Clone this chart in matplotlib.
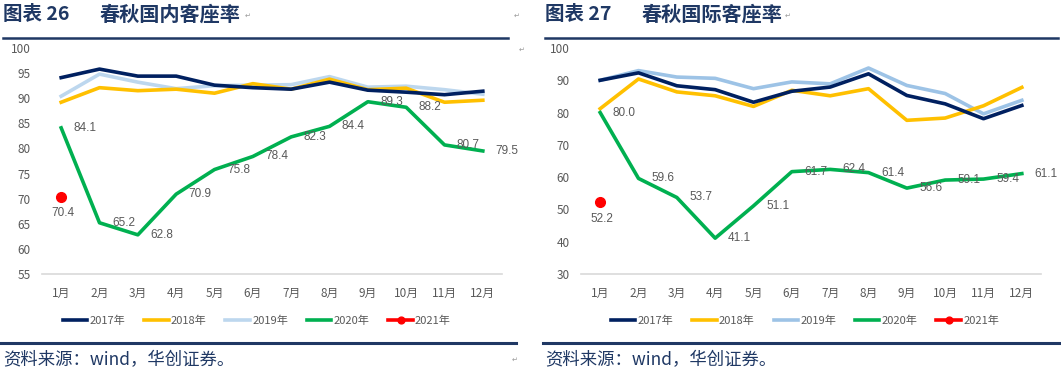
import matplotlib
matplotlib.use('Agg')
from matplotlib import pyplot as plt

plt.rcParams['font.family'] = ['Noto Sans CJK SC', 'DejaVu Sans']

# 数据
months = ['1月', '2月', '3月', '4月', '5月', '6月', '7月', '8月', '9月', '10月', '11月', '12月']
years = ['2017年', '2018年', '2019年', '2020年', '2021年']

# 国内客座率
dom_2017 = [94.1, 95.8, 94.4, 94.4, 92.6, 92.1, 91.8, 93.2, 91.6, 91.2, 90.7, 91.4]
dom_2018 = [89.2, 92.1, 91.5, 91.8, 91.0, 92.9, 91.8, 93.8, 91.7, 92.0, 89.2, 89.6]
dom_2019 = [90.4, 94.8, 93.2, 91.9, 92.5, 92.6, 92.7, 94.3, 92.2, 92.4, 91.7, 90.8]
dom_2020 = [84.1, 65.2, 62.8, 70.9, 75.8, 78.4, 82.3, 84.4, 89.3, 88.2, 80.7, 79.5]
dom_2021 = [70.4]

# 国际客座率
int_2017 = [90.0, 92.3, 88.3, 87.1, 83.2, 86.6, 87.9, 92.0, 85.3, 82.7, 78.1, 82.2]
int_2018 = [81.2, 90.4, 86.4, 85.2, 81.9, 86.9, 85.2, 87.4, 77.6, 78.3, 82.1, 87.8]
int_2019 = [90.0, 93.0, 91.0, 90.6, 87.4, 89.5, 88.9, 93.8, 88.4, 85.9, 79.6, 83.8]
int_2020 = [80.0, 59.6, 53.7, 41.1, 51.1, 61.7, 62.4, 61.4, 56.6, 59.1, 59.4, 61.1]
int_2021 = [52.2]

navy = '#002060'
gold = '#FFC000'
green = '#00B050'
gray = '#595959'
title_blue = '#1F3864'

W, H = 1061, 376
fig = plt.figure(figsize=(W / 100, H / 100), dpi=100)


def draw(left_px, series, light_blue, ylim, yticks, legend_x):
    ax = fig.add_axes([left_px / W, 1 - 274 / H, 460 / W, 226 / H])
    x = list(range(1, 13))
    s17, s18, s19, s20, s21 = series
    ax.plot(x, s17, color=navy, lw=2.6, label=years[0], zorder=4)
    ax.plot(x, s18, color=gold, lw=2.6, label=years[1], zorder=3)
    ax.plot(x, s19, color=light_blue, lw=2.6, label=years[2], zorder=2)
    ax.plot(x, s20, color=green, lw=2.6, label=years[3], zorder=5)
    ax.plot(x[:len(s21)], s21, color='#FF0000', lw=2.6, marker='o', ms=7,
            label=years[4], zorder=6)
    for xi, v in zip(x, s20):
        ax.annotate(f'{v:.1f}', (xi, v), xytext=(9, 0), textcoords='offset points',
                    ha='left', va='center', fontsize=8.5, color=gray,
                    family=['Liberation Sans', 'DejaVu Sans'], zorder=7)
    for xi, v in zip(x, s21):
        ax.annotate(f'{v:.1f}', (xi, v), xytext=(1, -12), textcoords='offset points',
                    ha='center', va='center', fontsize=8.5, color=gray,
                    family=['Liberation Sans', 'DejaVu Sans'], zorder=7)
    ax.set_xlim(0.5, 12.5)
    ax.set_ylim(*ylim)
    ax.set_yticks(yticks)
    ax.set_xticks(x)
    ax.set_xticklabels(months)
    for sp in ['top', 'right', 'left']:
        ax.spines[sp].set_visible(False)
    ax.spines['bottom'].set_color('#D9D9D9')
    ax.spines['bottom'].set_linewidth(1.2)
    ax.tick_params(axis='both', length=0, colors=gray, labelsize=8.5)
    ax.tick_params(axis='y', pad=8)
    ax.tick_params(axis='x', pad=9)
    leg = ax.legend(loc='center', bbox_to_anchor=(legend_x, -0.208), ncol=5,
                    frameon=False, fontsize=8, handlelength=2.2, handletextpad=0.2,
                    columnspacing=1.7, markerscale=0.7)
    for t in leg.get_texts():
        t.set_color(gray)
    return ax


draw(42, [dom_2017, dom_2018, dom_2019, dom_2020, dom_2021], '#BDD7EE',
     (55, 100), list(range(55, 101, 5)), 0.467)
draw(581, [int_2017, int_2018, int_2019, int_2020, int_2021], '#9DC3E6',
     (30, 100), list(range(30, 101, 10)), 0.487)

# 标题与分隔线
for x0, x1, a, b in [(3, 508, '图表 26', '春秋国内客座率'), (545, 1058, '图表 27', '春秋国际客座率')]:
    fig.text(x0 / W, 1 - 14 / H, a, fontsize=14, fontweight='bold',
             color=title_blue, ha='left', va='center')
    fig.text((x0 + 97) / W, 1 - 14 / H, b, fontsize=14.5, fontweight='bold',
             color=title_blue, ha='left', va='center')
    fig.add_artist(plt.Line2D([x0 / W, x1 / W], [1 - 37.5 / H] * 2, color=title_blue, lw=1.8))

for x0, x1 in [(0, 516), (543, 1061)]:
    fig.add_artist(plt.Line2D([x0 / W, x1 / W], [1 - 342.5 / H] * 2, color='#203864', lw=2.2))

for x0 in [3, 545]:
    fig.text(x0 / W, 1 - 360 / H, '资料来源：wind，华创证券。', fontsize=12.5, style='italic',
             color=title_blue, ha='left', va='center')

# 段落标记
for px, py in [(248, 16), (517, 16), (788, 16), (522, 50), (515, 360)]:
    fig.text(px / W, 1 - py / H, '↵', fontsize=5, color='#999999', ha='center', va='center',
             family=['DejaVu Sans'])

fig.savefig('out.png', dpi=100)
